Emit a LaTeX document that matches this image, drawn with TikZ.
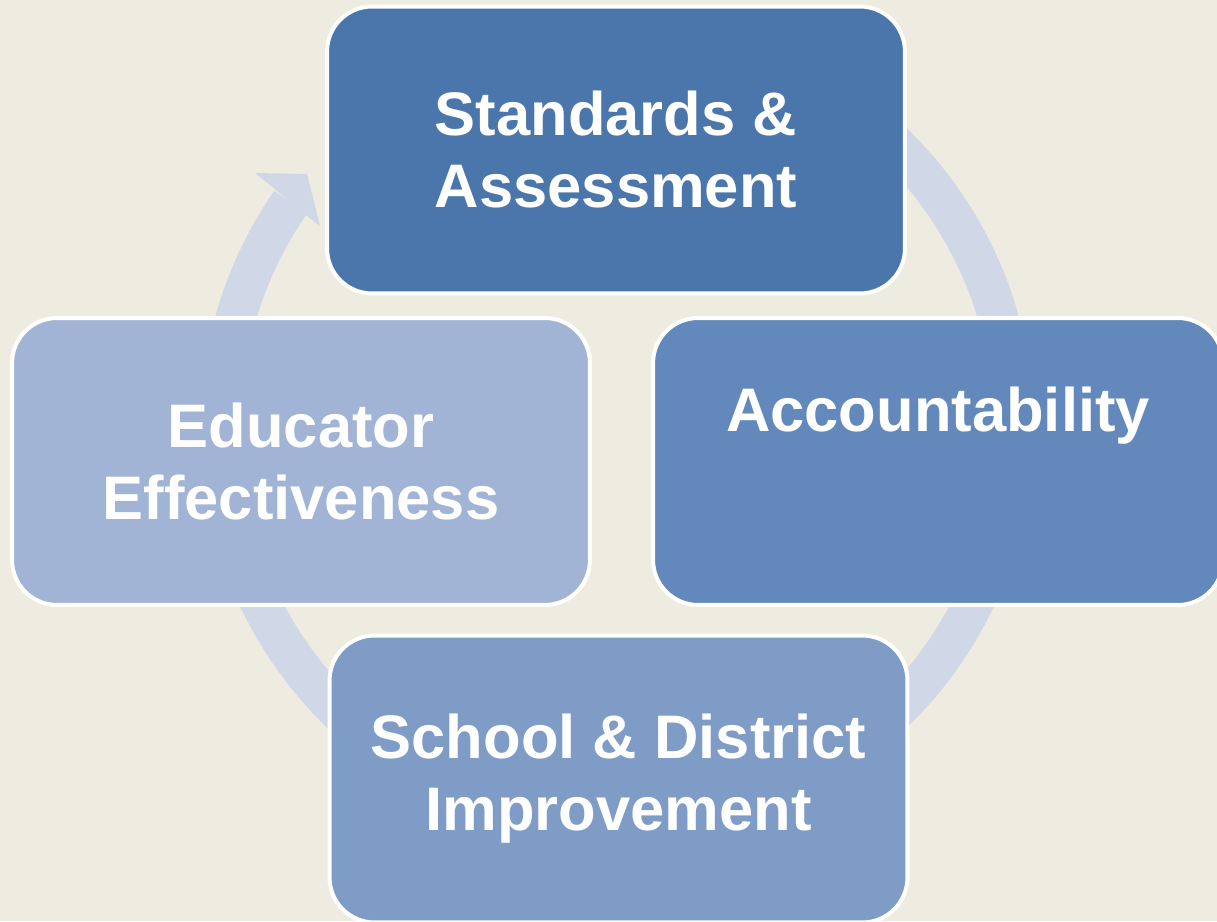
\documentclass[tikz,border=0pt]{standalone}
\usepackage{fontspec}
\setmainfont{Liberation Sans}
\usepackage{tikz}
\usetikzlibrary{shapes,arrows,positioning,calc}
\definecolor{bgtan}{HTML}{EEECE1}
\definecolor{ringblue}{HTML}{D0D8E8}
\definecolor{stdblue}{HTML}{4A76AC}
\definecolor{accblue}{HTML}{6389BC}
\definecolor{schblue}{HTML}{7F9CC6}
\definecolor{edublue}{HTML}{A2B4D5}
\tikzstyle{block} = [draw=white, line width=0.08cm, rectangle, rounded corners=0.9cm, minimum width=11.56cm, minimum height=5.74cm, text=white, align=center, font=\fontsize{35}{41}\selectfont\bfseries]
\tikzstyle{ring} = [draw=ringblue, line width=0.8cm]

\begin{document}
\begin{tikzpicture}[x=0.02cm, y=0.02cm]
    \fill [bgtan] (0,0) rectangle (1217,921);
    \useasboundingbox (0,0) rectangle (1217,921);
    \clip (0,0) rectangle (1217,921);

    % cycle arrow behind the blocks
    \coordinate (ctr) at (617,493);
    \draw [ring] ($(ctr)+(90:7.94cm)$) arc [start angle=90, end angle=-214.7, radius=7.94cm];
    \fill [ringblue] (307,747) -- (255,748) -- (271,735) -- (303,708) -- (320,695) -- cycle;

    \node [block, fill=stdblue] (std) at (616,771) {Standards \&\\Assessment};
    \node [block, fill=accblue, minimum width=11.4cm] (acc) at (938,459.5) {Accountability\\[0.64cm]\mbox{}};
    \node [block, fill=edublue] (edu) at (301,459.5) {Educator\\Effectiveness};
    \node [block, fill=schblue] (sch) at (618.5,142) {School \& District\\Improvement};
\end{tikzpicture}
\end{document}
